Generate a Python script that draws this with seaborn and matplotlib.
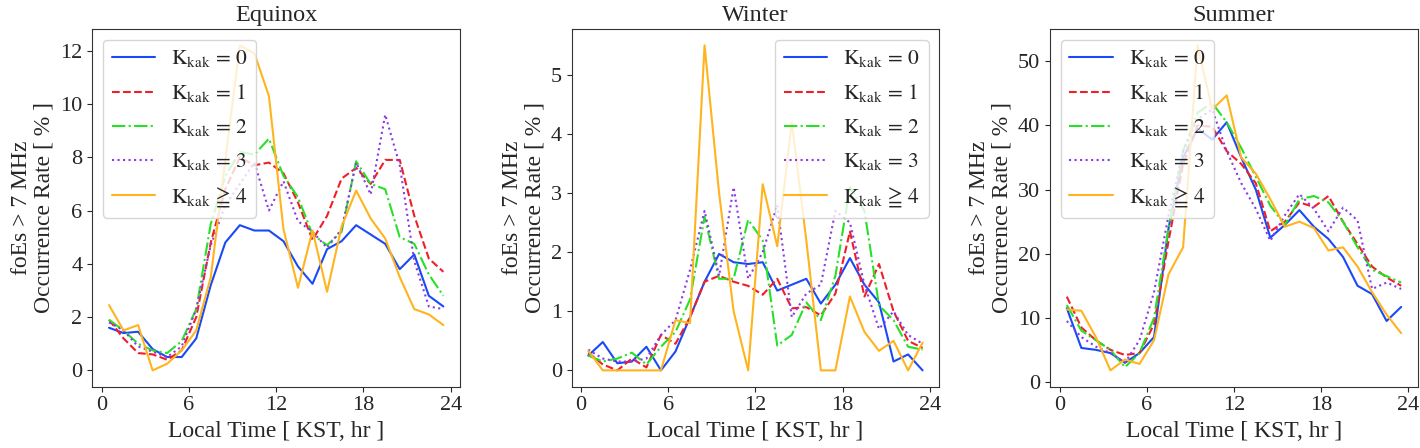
import numpy as np
import pandas as pd
import matplotlib
matplotlib.use("Agg")
import matplotlib.pyplot as plt
import seaborn as sns

hours = [h + 0.5 for h in range(24)]

labels = [r'$\mathrm{K_{kak}}\,=\,0$', r'$\mathrm{K_{kak}}\,=\,1$', r'$\mathrm{K_{kak}}\,=\,2$',
          r'$\mathrm{K_{kak}}\,=\,3$', r'$\mathrm{K_{kak}}\,\geqq\,4$']

equinox_k0 = [1.6, 1.4, 1.45, 0.8, 0.5, 0.5, 1.2, 3.2, 4.8, 5.45, 5.25, 5.25, 4.85, 3.9, 3.25, 4.55, 4.85, 5.45, 5.1, 4.75, 3.8, 4.35, 2.8, 2.4]
equinox_k1 = [1.9, 1.2, 0.65, 0.6, 0.4, 0.75, 2.0, 4.8, 6.8, 8.0, 7.7, 7.8, 7.4, 6.3, 4.9, 5.8, 7.2, 7.6, 7.0, 7.9, 7.9, 5.8, 4.2, 3.7]
equinox_k2 = [1.9, 1.5, 1.0, 0.75, 0.65, 1.1, 2.3, 5.5, 7.3, 8.2, 8.1, 8.7, 7.3, 6.5, 5.1, 4.7, 5.2, 7.85, 7.0, 6.8, 5.0, 4.75, 3.6, 2.8]
equinox_k3 = [1.8, 1.5, 0.9, 0.7, 0.5, 0.9, 2.3, 4.7, 6.2, 7.0, 7.8, 6.0, 7.1, 5.6, 5.2, 4.6, 5.3, 7.8, 6.6, 9.6, 7.7, 4.1, 2.4, 2.3]
equinox_k4 = [2.45, 1.5, 1.7, 0.0, 0.25, 0.75, 1.5, 3.5, 7.9, 12.2, 11.9, 10.3, 5.3, 3.1, 5.25, 2.95, 5.4, 6.75, 5.7, 4.95, 3.5, 2.3, 2.1, 1.7]

winter_k0 = [0.25, 0.48, 0.12, 0.15, 0.4, 0.0, 0.32, 0.9, 1.5, 1.97, 1.83, 1.8, 1.83, 1.35, 1.45, 1.55, 1.13, 1.45, 1.9, 1.45, 1.15, 0.15, 0.27, 0.0]
winter_k1 = [0.3, 0.1, 0.0, 0.2, 0.05, 0.6, 0.45, 0.9, 1.5, 1.6, 1.5, 1.43, 1.28, 1.55, 1.05, 1.07, 0.93, 1.3, 2.35, 1.25, 1.8, 1.0, 0.5, 0.38]
winter_k2 = [0.25, 0.15, 0.2, 0.3, 0.1, 0.4, 0.65, 1.2, 2.6, 1.55, 1.55, 2.55, 2.2, 0.42, 0.6, 1.15, 0.85, 1.6, 3.1, 2.7, 1.1, 0.85, 0.4, 0.35]
winter_k3 = [0.35, 0.2, 0.15, 0.15, 0.2, 0.6, 0.85, 1.7, 2.7, 1.6, 3.1, 1.55, 2.0, 2.8, 0.9, 1.3, 1.45, 2.7, 2.5, 1.45, 0.7, 1.0, 0.6, 0.45]
winter_k4 = [0.33, 0.0, 0.0, 0.0, 0.0, 0.0, 0.85, 0.8, 5.5, 3.0, 1.0, 0.0, 3.15, 2.1, 4.2, 2.2, 0.0, 0.0, 1.25, 0.65, 0.33, 0.5, 0.0, 0.47]

summer_k0 = [11.5, 5.3, 5.0, 4.5, 3.0, 4.5, 7.0, 24.0, 35.0, 39.5, 37.8, 40.5, 35.0, 30.0, 22.5, 24.5, 26.8, 24.2, 22.3, 19.5, 15.0, 13.7, 9.5, 11.7]
summer_k1 = [13.3, 8.5, 6.5, 5.0, 4.2, 4.5, 9.0, 22.0, 34.0, 40.0, 39.8, 36.0, 34.0, 31.0, 23.5, 25.0, 28.0, 27.3, 29.0, 25.0, 21.5, 18.0, 16.3, 15.0]
summer_k2 = [12.0, 8.0, 6.5, 5.0, 2.3, 4.5, 10.0, 24.0, 36.0, 42.0, 43.5, 40.5, 36.5, 32.0, 27.5, 24.5, 28.5, 29.0, 28.0, 25.0, 21.0, 17.5, 16.5, 15.5]
summer_k3 = [9.5, 7.0, 5.5, 4.5, 3.0, 6.5, 14.0, 26.0, 36.0, 41.0, 42.5, 36.0, 31.0, 27.0, 22.0, 26.0, 29.3, 27.0, 23.5, 27.2, 25.2, 14.5, 15.5, 14.5]
summer_k4 = [11.3, 11.1, 7.0, 1.8, 3.5, 2.8, 6.5, 16.8, 21.0, 52.5, 42.5, 44.7, 35.0, 32.5, 28.5, 24.2, 25.0, 24.0, 20.5, 21.0, 18.0, 14.0, 10.5, 7.6]

titles = ["Equinox", "Winter", "Summer"]
panels = [
    [equinox_k0, equinox_k1, equinox_k2, equinox_k3, equinox_k4],
    [winter_k0, winter_k1, winter_k2, winter_k3, winter_k4],
    [summer_k0, summer_k1, summer_k2, summer_k3, summer_k4],
]
legend_locs = ["upper left", "upper right", "upper left"]

colors = ["#1a4af5", "#f01e28", "#28e028", "#8a3ae6", "#ffb41e"]
styles = ["-", "--", "-.", ":", "-"]

sns.set_style("ticks")
plt.rcParams["font.family"] = ["Liberation Serif", "DejaVu Serif"]
plt.rcParams["mathtext.fontset"] = "stix"
plt.rcParams["font.size"] = 16

fig = plt.figure(figsize=(14.2, 4.48), dpi=100)
lefts = [0.065, 0.4025, 0.7395]
for i in range(3):
    ax = fig.add_axes([lefts[i], 0.137, 0.259, 0.798])
    for j in range(5):
        sns.lineplot(x=hours, y=panels[i][j], ax=ax, color=colors[j], linestyle=styles[j],
                     linewidth=1.5, label=labels[j])
    ax.set_xticks([0, 6, 12, 18, 24])
    ax.set_title(titles[i], fontsize=17.5)
    ax.set_xlabel("Local Time [ KST, hr ]", fontsize=17)
    ax.set_ylabel("foEs > 7 MHz\nOccurrence Rate [ % ]", fontsize=17, linespacing=1.1)
    ax.tick_params(labelsize=16)
    for s in ax.spines.values():
        s.set_visible(True)
        s.set_color("#333333")
    ax.legend(loc=legend_locs[i], fontsize=15.5, framealpha=0.8, handlelength=2.0,
              handletextpad=0.75, labelspacing=0.6)

fig.savefig("out.png", dpi=100)
